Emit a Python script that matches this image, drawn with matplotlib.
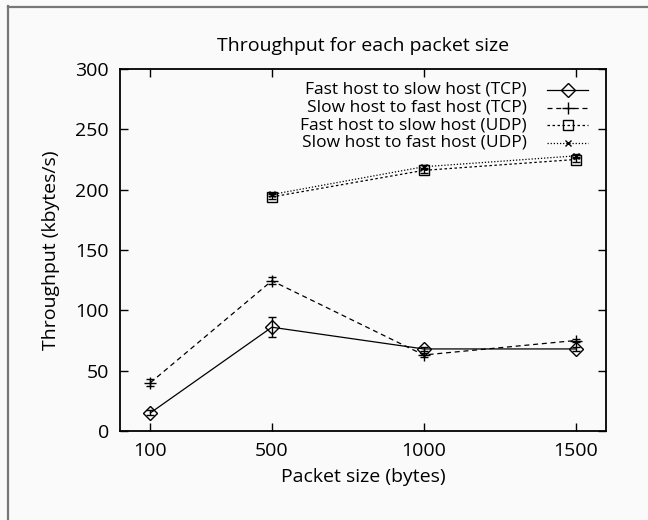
import matplotlib
matplotlib.use("Agg")
import matplotlib.pyplot as plt
from matplotlib.lines import Line2D

plt.rcParams['font.family'] = ['Open Sans', 'DejaVu Sans']

# packet sizes (bytes) and measured throughput (kbytes/s)
sizes_tcp = [100, 500, 1000, 1500]
sizes_udp = [500, 1000, 1500]

tcp_fast_slow = [15, 86, 68, 68]
tcp_fast_slow_err = [2, 8.5, 1.5, 1.5]
tcp_slow_fast = [40, 124.5, 63, 75]
tcp_slow_fast_err = [3, 3, 1.5, 1.5]

udp_fast_slow = [194, 216, 225]
udp_fast_slow_err = [2, 2, 2]
udp_slow_fast = [196, 219, 228]
udp_slow_fast_err = [1.5, 1.5, 1.5]

labels = ["Fast host to slow host (TCP)", "Slow host to fast host (TCP)",
          "Fast host to slow host (UDP)", "Slow host to fast host (UDP)"]

BG = "#fafafa"
FS = 14
KEY_FS = 12.5

fig = plt.figure(figsize=(6.48, 5.2), dpi=100, facecolor=BG)
ax = fig.add_axes([120 / 648, 1 - 431 / 520, 486 / 648, 362 / 520])
ax.set_facecolor(BG)

styles = [
    dict(ls='-', marker='D', ms=7.5, mfc='none'),
    dict(ls=(0, (4, 3)), marker='+', ms=8),
    dict(ls=(0, (2, 2)), marker='s', ms=6.5, mfc='none'),
    dict(ls=(0, (1, 1.5)), marker='x', ms=5),
]
series = [
    (sizes_tcp, tcp_fast_slow, tcp_fast_slow_err),
    (sizes_tcp, tcp_slow_fast, tcp_slow_fast_err),
    (sizes_udp, udp_fast_slow, udp_fast_slow_err),
    (sizes_udp, udp_slow_fast, udp_slow_fast_err),
]
for (x, y, e), st in zip(series, styles):
    ax.errorbar(x, y, yerr=e, color='black', lw=0.9, mew=1.0, elinewidth=1.0,
                capsize=3, capthick=1.0, **st)

ax.set_xlim(0, 1600)
ax.set_ylim(0, 300)
ax.set_xticks([100, 500, 1000, 1500])
ax.set_yticks(range(0, 301, 50))
ax.tick_params(direction='in', length=6, width=1, top=True, right=True,
               labelsize=FS, pad=8)
ax.tick_params(axis='y', pad=8)
for sp in ax.spines.values():
    sp.set_linewidth(1.3)

ax.set_title("Throughput for each packet size", fontsize=FS, pad=13)
ax.set_xlabel("Packet size (bytes)", fontsize=FS, labelpad=6)
ax.set_ylabel("Throughput (kbytes/s)", fontsize=FS, labelpad=11)

# gnuplot-style key: right-aligned text with line samples on the right
tr = ax.transAxes
for i, (lab, st) in enumerate(zip(labels, styles)):
    yy = (431 - 90 - i * 17.5) / 362
    ax.text((527 - 120) / 486, yy, lab, transform=tr, ha='right', va='center',
            fontsize=KEY_FS)
    ax.add_line(Line2D([(547 - 120) / 486, (588 - 120) / 486], [yy, yy],
                       transform=tr, color='black', lw=0.9, ls=st['ls']))
    ax.add_line(Line2D([(567.5 - 120) / 486], [yy], transform=tr, color='black',
                       ls='none', marker=st['marker'], ms=st['ms'],
                       mfc=st.get('mfc', 'black'), mew=1.0))

# grey frame on left and top edges
fig.add_artist(Line2D([7.5 / 648, 7.5 / 648], [0, 1 - 6 / 520],
                      transform=fig.transFigure, color='#777777', lw=1.6))
fig.add_artist(Line2D([7.5 / 648, 1], [1 - 6.5 / 520, 1 - 6.5 / 520],
                      transform=fig.transFigure, color='#777777', lw=1.6))

fig.savefig("out.png", dpi=100, facecolor=BG)
